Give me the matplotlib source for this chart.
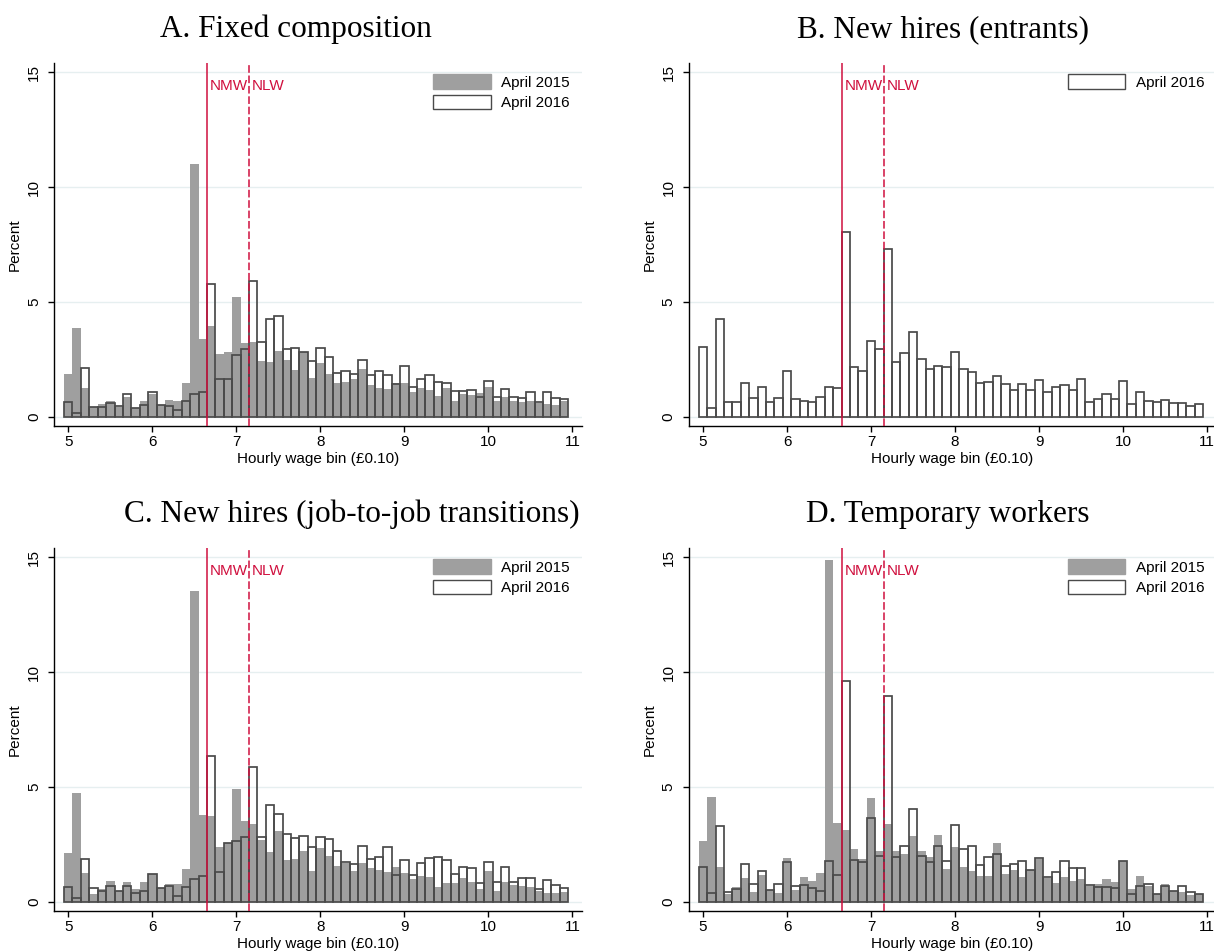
import numpy as np
import matplotlib
matplotlib.use("Agg")
import matplotlib.pyplot as plt
from matplotlib.patches import Patch

plt.rcParams['font.family'] = ['Liberation Sans', 'DejaVu Sans']

# wage bins, 10p wide, labelled by bin centre
wage_bins = np.round(np.arange(5.0, 10.95, 0.1), 1)

nmw = 6.65
nlw = 7.15

fixed_2015 = [1.85, 3.87, 1.24, 0.44, 0.55, 0.68, 0.44, 0.86, 0.36, 0.68,
              0.97, 0.50, 0.74, 0.67, 1.47, 11.03, 3.40, 3.97, 2.73, 2.82,
              5.22, 3.20, 3.26, 2.43, 2.37, 2.86, 2.47, 2.02, 2.80, 1.69,
              2.33, 1.88, 1.48, 1.50, 1.64, 2.08, 1.40, 1.25, 1.22, 1.48,
              1.47, 1.06, 1.25, 1.15, 0.90, 1.24, 0.67, 0.99, 0.96, 1.02,
              1.28, 0.67, 0.86, 0.67, 0.64, 0.68, 0.60, 0.55, 0.51, 0.70]
fixed_2016 = [0.65, 0.15, 2.12, 0.44, 0.42, 0.61, 0.45, 0.97, 0.36, 0.52,
              1.09, 0.50, 0.48, 0.30, 0.67, 0.97, 1.08, 5.78, 1.63, 1.63,
              2.70, 2.94, 5.92, 3.27, 4.24, 4.40, 2.94, 3.00, 2.80, 2.41,
              3.00, 2.62, 1.92, 1.99, 1.85, 2.49, 1.83, 2.00, 1.82, 1.41,
              2.19, 1.31, 1.64, 1.80, 1.53, 1.48, 1.13, 1.13, 1.18, 0.86,
              1.54, 0.84, 1.21, 0.87, 0.80, 1.06, 0.62, 1.09, 0.83, 0.76]

entrants_2016 = [3.02, 0.36, 4.27, 0.65, 0.65, 1.47, 0.80, 1.28, 0.65, 0.80,
                 1.98, 0.76, 0.70, 0.65, 0.84, 1.29, 1.26, 8.05, 2.17, 1.99,
                 3.31, 2.97, 7.31, 2.38, 2.78, 3.68, 2.51, 2.09, 2.22, 2.17,
                 2.82, 2.06, 1.96, 1.48, 1.50, 1.76, 1.44, 1.18, 1.41, 1.16,
                 1.60, 1.06, 1.28, 1.38, 1.18, 1.64, 0.64, 0.77, 1.00, 0.77,
                 1.56, 0.57, 1.08, 0.70, 0.64, 0.74, 0.58, 0.58, 0.45, 0.57]

j2j_2015 = [2.13, 4.72, 1.23, 0.33, 0.57, 0.91, 0.46, 0.87, 0.55, 0.84,
            1.22, 0.60, 0.77, 0.77, 1.44, 13.55, 3.76, 3.74, 2.37, 2.54,
            4.92, 3.51, 3.40, 2.69, 2.16, 3.08, 1.81, 1.86, 2.21, 1.32,
            2.34, 1.99, 1.57, 1.67, 1.35, 1.70, 1.49, 1.38, 1.28, 1.52,
            1.23, 0.98, 1.10, 1.06, 0.65, 0.80, 0.80, 1.02, 0.86, 0.57,
            1.35, 0.46, 0.87, 0.74, 0.68, 0.65, 0.46, 0.38, 0.36, 0.44]
j2j_2016 = [0.62, 0.15, 1.84, 0.60, 0.45, 0.67, 0.46, 0.67, 0.36, 0.45,
            1.19, 0.60, 0.70, 0.23, 0.64, 0.99, 1.10, 6.37, 1.28, 2.54,
            2.63, 2.83, 5.86, 2.83, 4.21, 3.80, 2.93, 2.76, 2.87, 2.39,
            2.84, 2.74, 2.19, 1.71, 1.64, 2.42, 1.86, 1.96, 2.39, 1.15,
            1.81, 1.15, 1.68, 1.92, 1.94, 1.83, 1.19, 1.51, 1.47, 0.81,
            1.71, 0.84, 1.51, 0.84, 1.02, 1.03, 0.55, 0.93, 0.74, 0.58]

temp_2015 = [2.63, 4.56, 1.50, 0.35, 0.64, 1.02, 0.41, 1.15, 0.52, 0.38,
             1.92, 0.49, 1.08, 0.92, 1.26, 14.90, 3.42, 3.11, 2.30, 1.87,
             4.50, 2.19, 3.39, 2.21, 2.09, 2.85, 2.21, 1.95, 2.91, 1.41,
             2.38, 1.51, 1.34, 1.10, 1.10, 2.54, 1.22, 1.37, 1.08, 1.37,
             1.86, 1.02, 0.81, 1.06, 0.92, 0.99, 0.70, 0.76, 0.97, 0.87,
             1.76, 0.54, 1.12, 0.68, 0.35, 0.78, 0.45, 0.42, 0.29, 0.32]
temp_2016 = [1.53, 0.38, 3.28, 0.42, 0.57, 1.64, 0.77, 1.35, 0.52, 0.77,
             1.72, 0.68, 0.74, 0.60, 0.48, 1.77, 1.18, 9.62, 1.80, 1.72,
             3.63, 2.00, 8.97, 1.93, 2.43, 4.05, 2.00, 1.73, 2.44, 1.77,
             3.34, 2.31, 2.43, 1.58, 1.96, 2.08, 1.54, 1.63, 1.79, 1.37,
             1.90, 1.06, 1.31, 1.76, 1.47, 1.47, 0.73, 0.65, 0.65, 0.58,
             1.76, 0.32, 0.67, 0.77, 0.35, 0.70, 0.47, 0.67, 0.44, 0.32]

GRAY = "#9f9f9f"
OUTLINE = "#4a4a4a"
RED = "#d0103e"
FS = 11

W, H = 1214, 952


def px_rect(left, top, right, bottom):
    return [left / W, 1 - bottom / H, (right - left) / W, (bottom - top) / H]


def draw_panel(fig, rect, title, title_x, title_y, before, after):
    ax = fig.add_axes(px_rect(*rect))

    if before is not None:
        ax.bar(wage_bins, before, width=0.1, color=GRAY, linewidth=0, zorder=2)
    ax.bar(wage_bins, after, width=0.1, facecolor="none", edgecolor=OUTLINE,
           linewidth=1.25, zorder=3)

    ax.axvline(nmw, color=RED, lw=1.1, zorder=4)
    ax.axvline(nlw, color=RED, lw=1.1, ls=(0, (5, 1.8)), zorder=4)
    ax.text(nmw + 0.035, 14.23, "NMW", color=RED, fontsize=FS, va="baseline")
    ax.text(nlw + 0.035, 14.23, "NLW", color=RED, fontsize=FS, va="baseline")

    ax.set_xlim(4.83, 11.11)
    ax.set_ylim(-0.405, 15.42)
    ax.set_xticks([5, 6, 7, 8, 9, 10, 11])
    ax.set_yticks([0, 5, 10, 15])
    ax.set_axisbelow(True)
    ax.yaxis.grid(True, color="#e6eff0", lw=1.0)

    for side in ["top", "right"]:
        ax.spines[side].set_visible(False)
    for side in ["left", "bottom"]:
        ax.spines[side].set_linewidth(1.0)

    ax.tick_params(axis="x", length=4.3, width=1.0, pad=2, labelsize=FS)
    ax.tick_params(axis="y", length=4.3, width=1.0, pad=5, labelsize=FS,
                   labelrotation=90)
    for lab in ax.get_yticklabels():
        lab.set_va("center")

    ax.set_xlabel("Hourly wage bin (£0.10)", fontsize=FS, labelpad=2.5)
    ax.set_ylabel("Percent", fontsize=FS, labelpad=3.5)

    handles = []
    if before is not None:
        handles.append(Patch(facecolor=GRAY, edgecolor=GRAY, label="April 2015"))
    handles.append(Patch(facecolor="white", edgecolor=OUTLINE, linewidth=1.0,
                         label="April 2016"))
    ax.legend(handles=handles, loc="upper left", bbox_to_anchor=(0.7188, 0.968),
              frameon=False, fontsize=FS, handlelength=3.75, handleheight=1.05,
              handletextpad=0.7, labelspacing=0.33, borderpad=0,
              borderaxespad=0)

    fig.text(title_x / W, 1 - title_y / H, title, fontsize=22.5,
             family=["Liberation Serif", "DejaVu Serif"], ha="center",
             va="baseline")
    return ax


fig = plt.figure(figsize=(W / 100, H / 100), dpi=100)

draw_panel(fig, (54, 62.8, 581.7, 426), "A. Fixed composition", 296, 37.3,
           fixed_2015, fixed_2016)
draw_panel(fig, (688.7, 62.8, 1216.4, 426), "B. New hires (entrants)", 943, 37.3,
           None, entrants_2016)
draw_panel(fig, (54, 547.8, 581.7, 911), "C. New hires (job-to-job transitions)",
           352, 522.3, j2j_2015, j2j_2016)
draw_panel(fig, (688.7, 547.8, 1216.4, 911), "D. Temporary workers", 948, 522.3,
           temp_2015, temp_2016)

fig.savefig("out.png", dpi=100, facecolor="white")
